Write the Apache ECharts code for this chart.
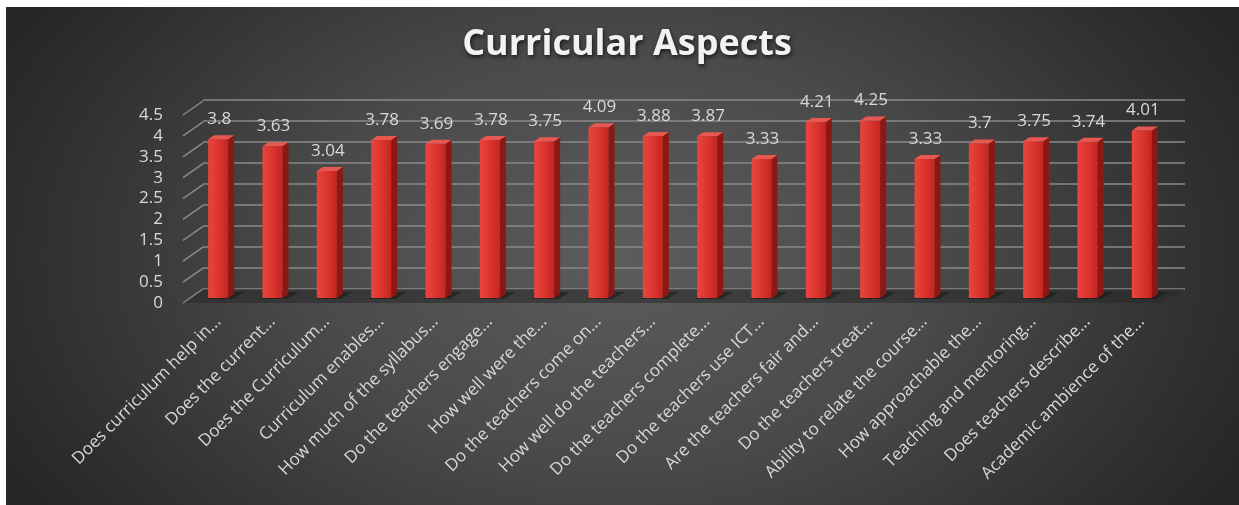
<!DOCTYPE html>
<html>
<head>
<meta charset="utf-8">
<script src="https://cdn.jsdelivr.net/npm/echarts@6/dist/echarts.min.js"></script>
<style>
  html, body { margin: 0; padding: 0; background: #ffffff; }
  #wrap { position: relative; width: 1239px; height: 505px; background: #ffffff; overflow: hidden; }
  #bg { position: absolute; left: 6px; top: 7px; right: 0; bottom: 0;
        background: radial-gradient(ellipse 700px 460px at 50% 50%, #5c5c5c 0%, #4a4a4a 45%, #2f2f2f 85%, #262626 100%); }
  #chart { position: absolute; left: 0; top: 0; width: 1239px; height: 505px; }
</style>
</head>
<body>
<div id="wrap"><div id="bg"></div><div id="chart"></div></div>
<script>
const titleText = 'Curricular Aspects';
const categories = [
  'Does curriculum help in...',
  'Does the current...',
  'Does the Curriculum...',
  'Curriculum enables...',
  'How much of the syllabus...',
  'Do the teachers engage...',
  'How well were the...',
  'Do the teachers come on...',
  'How well do the teachers...',
  'Do the teachers complete...',
  'Do the teachers use ICT...',
  'Are the teachers fair and...',
  'Do the teachers treat...',
  'Ability to relate the course...',
  'How approachable the...',
  'Teaching and mentoring...',
  'Does teachers describe...',
  'Academic ambience of the...'
];
const values = [3.8, 3.63, 3.04, 3.78, 3.69, 3.78, 3.75, 4.09, 3.88, 3.87, 3.33, 4.21, 4.25, 3.33, 3.7, 3.75, 3.74, 4.01];
const yTicks = [0, 0.5, 1, 1.5, 2, 2.5, 3, 3.5, 4, 4.5];

const FONT = '"Open Sans", "Liberation Sans", sans-serif';
const chart = echarts.init(document.getElementById('chart'), null, { renderer: 'canvas' });

function barItem(params, api) {
  const i = api.value(0), v = api.value(1);
  const b = api.coord([i, 0]), t = api.coord([i, v]);
  const cx = b[0], by = b[1] - 5, ty = t[1] - 5;
  const w = 10, d = 6, dy = 4;
  return {
    type: 'group',
    children: [
      { type: 'polygon', shape: { points: [[cx - w - 2, by + 1], [cx + w + 4, by + 1], [cx + w + d + 10, by - dy - 2], [cx - w + 8, by - dy - 2]] },
        style: { fill: 'rgba(15,15,15,0.45)' } },
      { type: 'polygon', shape: { points: [[cx + w, ty], [cx + w + d, ty - dy], [cx + w + d, by - dy], [cx + w, by]] },
        style: { fill: '#8c1814' } },
      { type: 'rect', shape: { x: cx - w, y: ty, width: 2 * w, height: by - ty },
        style: { fill: new echarts.graphic.LinearGradient(0, 0, 1, 0, [
          { offset: 0, color: '#e8453e' }, { offset: 0.5, color: '#dc3530' }, { offset: 1, color: '#c4261f' }]) } },
      { type: 'polygon', shape: { points: [[cx - w, ty], [cx + w, ty], [cx + w + d, ty - dy], [cx - w + d, ty - dy]] },
        style: { fill: '#e85850' } },
      { type: 'text', x: cx + 1, y: ty - 20,
        style: { text: String(v), textAlign: 'center', textVerticalAlign: 'middle',
                 font: '17px ' + FONT, fill: '#d9d9d9' } }
    ]
  };
}

function diagItem(params, api) {
  const v = api.value(1);
  const p = api.coord([0, v]);
  const x0 = params.coordSys.x - 8;
  return {
    type: 'line',
    shape: { x1: x0, y1: p[1], x2: x0 + 20, y2: p[1] - 14 },
    style: { stroke: '#8a8a8a', lineWidth: 1.5 }
  };
}

function floorItem(params, api) {
  const p = api.coord([0, 0]);
  const cs = params.coordSys;
  const x0 = cs.x - 8, x1 = cs.x + cs.width - 8, y = p[1];
  return {
    type: 'polygon',
    shape: { points: [[x0, y], [x1, y], [x1 + 24, y - 14], [x0 + 20, y - 14]] },
    style: { fill: 'rgba(40,40,40,0.55)' }
  };
}

const option = {
  animation: false,
  graphic: [{
    type: 'text', x: 627, y: 45, z: 10,
    style: { text: titleText, textAlign: 'center', textVerticalAlign: 'middle',
             font: 'bold 36px ' + FONT, fill: '#f2f2f2',
             textShadowColor: 'rgba(0,0,0,0.7)', textShadowBlur: 4, textShadowOffsetX: 1, textShadowOffsetY: 2 }
  }],
  grid: [
    { left: 191, right: 70, top: 115, bottom: 202 },
    { left: 203, right: 54, top: 100, bottom: 216 }
  ],
  xAxis: [
    { type: 'category', gridIndex: 0, data: categories,
      axisLine: { show: false }, axisTick: { show: false },
      axisLabel: { rotate: 45, interval: 0, margin: 16, color: '#d9d9d9', fontSize: 17, fontFamily: FONT } },
    { type: 'category', gridIndex: 1, data: categories, show: false }
  ],
  yAxis: [
    { type: 'value', gridIndex: 0, min: 0, max: 4.5, interval: 0.5,
      axisLine: { show: false }, axisTick: { show: false }, splitLine: { show: false },
      axisLabel: { margin: 28, color: '#d9d9d9', fontSize: 17, fontFamily: FONT } },
    { type: 'value', gridIndex: 1, min: 0, max: 4.5, interval: 0.5,
      axisLine: { show: false }, axisTick: { show: false }, axisLabel: { show: false },
      splitLine: { show: true, lineStyle: { color: '#8a8a8a', width: 1.5 } } }
  ],
  series: [
    { type: 'custom', xAxisIndex: 0, yAxisIndex: 0, z: 1, renderItem: floorItem, data: [[0, 0]], silent: true },
    { type: 'custom', xAxisIndex: 0, yAxisIndex: 0, z: 2, renderItem: diagItem,
      data: yTicks.map(v => [0, v]), silent: true },
    { type: 'custom', xAxisIndex: 0, yAxisIndex: 0, z: 5, renderItem: barItem,
      data: values.map((v, i) => [i, v]) }
  ]
};
chart.setOption(option);
</script>
</body>
</html>
